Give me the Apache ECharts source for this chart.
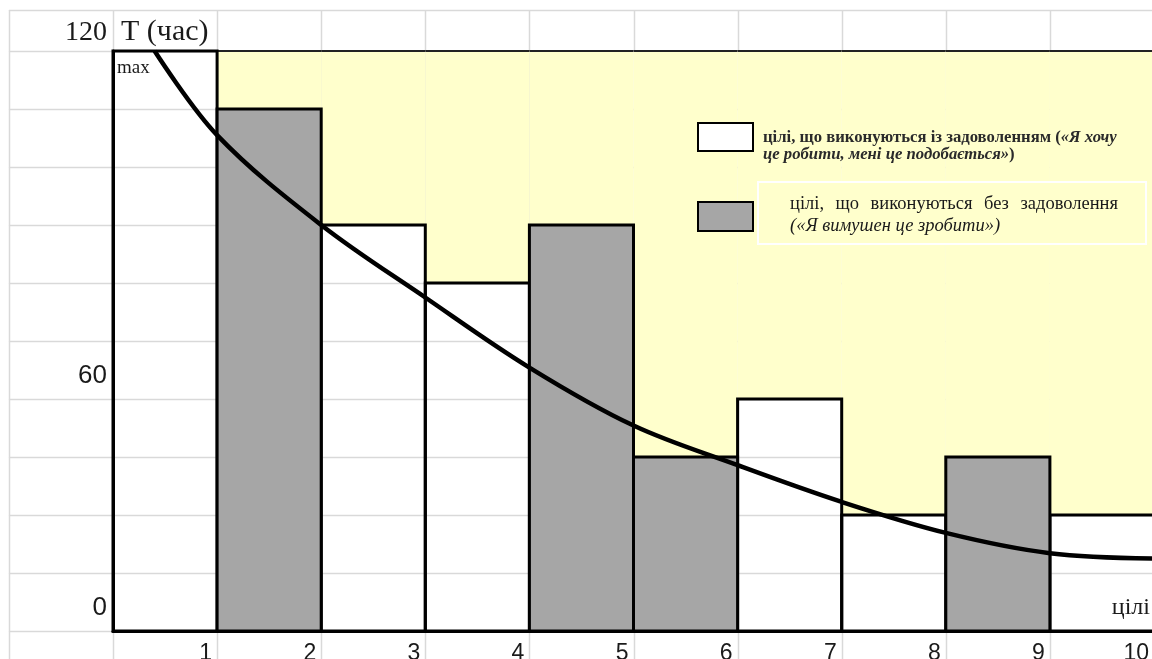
<!DOCTYPE html>
<html>
<head>
<meta charset="utf-8">
<script src="https://cdn.jsdelivr.net/npm/echarts@6/dist/echarts.min.js"></script>
<style>
  html, body { margin: 0; padding: 0; background: #ffffff; }
  #chart { width: 1152px; height: 659px; }
</style>
</head>
<body>
<div id="chart"></div>
<script>
// Goal numbers along the horizontal axis
const goalLabels = ['1', '2', '3', '4', '5', '6', '7', '8', '9', '10'];
// Hours per goal: done with pleasure (white bars) and without pleasure (gray bars)
const pleasureHours = [120, null, 84, 72, null, null, 48, 24, null, 24];
const forcedHours   = [null, 108, null, null, 84, 36, null, null, 36, null];
// Falling trend curve across the goals
const trendX = [0.4, 1, 2, 3, 4, 5, 6, 7, 8, 9, 10];
const trendY = [120, 102.6, 84, 69, 54.5, 42.5, 34.3, 26.7, 20.3, 16.1, 15];
// Labelled hour ticks
const hourTicks = [0, 60, 120];
const hourMax = 120;
const hourStep = 12;

const SERIF = '"Liberation Serif", "Times New Roman", serif';
const SANS = '"Liberation Sans", Arial, sans-serif';
const YELLOW = '#ffffcc';
const GRAY = '#a6a6a6';
const GRID_LINE = '#d9d9d9';

function toPairs(values) {
  const out = [];
  values.forEach((v, i) => { if (v != null) out.push([i, v]); });
  return out;
}
const pleasureData = toPairs(pleasureHours);
const forcedData = toPairs(forcedHours);
// top of the column (whichever bar stands there) for the yellow band above it
const skylineData = goalLabels.map((_, i) => [i, Math.max(pleasureHours[i] || 0, forcedHours[i] || 0)]);
const trendData = trendX.map((x, i) => [x, trendY[i]]);

function barRenderer(fill) {
  return function (params, api) {
    const x0 = api.value(0);
    const v = api.value(1);
    const p0 = api.coord([x0, v]);
    const p1 = api.coord([x0 + 1, 0]);
    return {
      type: 'rect',
      shape: { x: p0[0], y: p0[1], width: p1[0] - p0[0], height: p1[1] - p0[1] },
      style: { fill: fill, stroke: '#000', lineWidth: 3 }
    };
  };
}

function skylineRenderer(params, api) {
  const x0 = api.value(0);
  const v = api.value(1);
  const p0 = api.coord([x0, hourMax]);
  const p1 = api.coord([x0 + 1, v]);
  if (p1[1] - p0[1] <= 0) return null;
  return {
    type: 'group',
    children: [
      { type: 'rect', shape: { x: p0[0], y: p0[1], width: p1[0] - p0[0], height: p1[1] - p0[1] },
        style: { fill: YELLOW } },
      { type: 'line', shape: { x1: p0[0], y1: p0[1], x2: p1[0], y2: p0[1] },
        style: { stroke: '#222', lineWidth: 2 } }
    ]
  };
}

const chart = echarts.init(document.getElementById('chart'), null, { renderer: 'canvas' });

chart.setOption({
  animation: false,
  backgroundColor: '#ffffff',
  grid: { left: 113, right: -2, top: 51, bottom: 28, containLabel: false, outerBoundsMode: 'none' },
  xAxis: {
    type: 'value', min: 0, max: goalLabels.length, interval: 1,
    axisLine: { show: true, lineStyle: { color: '#000', width: 3 } },
    axisTick: { show: false },
    splitLine: { show: false },
    axisLabel: {
      formatter: v => (v >= 1 ? goalLabels[v - 1] : ''),
      align: 'right', padding: [0, 5, 0, 0], margin: 11,
      fontFamily: SANS, fontSize: 23, color: '#1a1a1a'
    }
  },
  yAxis: {
    type: 'value', min: 0, max: hourMax, interval: hourStep,
    axisLine: { show: true, lineStyle: { color: '#000', width: 3 } },
    axisTick: { show: false },
    splitLine: { show: false },
    axisLabel: { show: false }
  },
  series: [
    { type: 'custom', name: 'band', renderItem: skylineRenderer, data: skylineData, z: 1, silent: true },
    { type: 'custom', name: 'цілі, що виконуються із задоволенням', renderItem: barRenderer('rgba(255,255,255,0)'), data: pleasureData, z: 3 },
    { type: 'custom', name: 'цілі, що виконуються без задоволення', renderItem: barRenderer(GRAY), data: forcedData, z: 3 },
    {
      type: 'line', data: trendData, smooth: 0.35, showSymbol: false, z: 6,
      lineStyle: { color: '#000', width: 4.5 }
    }
  ]
});

// Spreadsheet-style cell lines, tick labels and the key, placed from the axis scales
const origin = chart.convertToPixel({ gridIndex: 0 }, [0, 0]);
const unit = chart.convertToPixel({ gridIndex: 0 }, [1, hourStep]);
const colW = unit[0] - origin[0];
const topY = chart.convertToPixel({ gridIndex: 0 }, [0, hourMax])[1];
const headerY = topY - 41;
const leftX = origin[0] - colW;
const W = 1152, H = 659;

// text placed by its baseline (middle of the em box sits ~0.34em above it)
function textAt(x, baseline, text, opts) {
  const size = opts.size;
  return {
    type: 'text', z: opts.z || 10, x: x, y: baseline - 0.34 * size, silent: true,
    style: Object.assign({
      text: text, fontFamily: opts.font || SERIF, fontSize: size, fill: opts.color || '#1a1a1a',
      align: opts.align || 'left', verticalAlign: 'middle'
    }, opts.extra || {})
  };
}

const graphics = [];
for (let k = -1; k < goalLabels.length; k++) {
  const x = Math.round(origin[0] + k * colW) + 0.5;
  graphics.push({ type: 'line', z: 0, silent: true,
    shape: { x1: x, y1: headerY, x2: x, y2: H }, style: { stroke: GRID_LINE, lineWidth: 1.5 } });
}
const rowYs = [headerY];
for (let v = 0; v <= hourMax; v += hourStep) rowYs.push(chart.convertToPixel({ gridIndex: 0 }, [0, v])[1]);
rowYs.forEach(y => {
  graphics.push({ type: 'line', z: 0, silent: true,
    shape: { x1: leftX, y1: Math.round(y) + 0.5, x2: W, y2: Math.round(y) + 0.5 },
    style: { stroke: GRID_LINE, lineWidth: 1.5 } });
});

// hour tick labels sit inside the spreadsheet cells next to their rows
const tickStyle = {
  0:   { font: SANS, size: 26, dy: -14 },
  60:  { font: SANS, size: 26, dy: 44 },
  120: { font: SERIF, size: 28, dy: -9 }
};
hourTicks.forEach(v => {
  const p = chart.convertToPixel({ gridIndex: 0 }, [0, v]);
  const s = tickStyle[v];
  graphics.push(textAt(p[0] - 6, p[1] + s.dy, String(v), { font: s.font, size: s.size, align: 'right' }));
});

graphics.push(textAt(origin[0] + 8, topY - 9, 'T (час)', { size: 30 }));
graphics.push(textAt(origin[0] + 4, topY + 23, 'max', { size: 19 }));
graphics.push(textAt(W - 2, origin[1] - 15, 'цілі', { size: 24, align: 'right' }));

// key: white box = goals done gladly, gray box = goals done reluctantly
graphics.push({ type: 'rect', z: 10, shape: { x: 698, y: 123, width: 55, height: 28 },
  style: { fill: '#ffffff', stroke: '#000', lineWidth: 2 } });
graphics.push({ type: 'text', z: 10, x: 763, y: 129,
  style: {
    text: '{b|цілі, що виконуються із задоволенням (}{bi|«Я хочу}\n{bi|це робити, мені це подобається»}{b|)}',
    verticalAlign: 'top', align: 'left',
    rich: {
      b:  { fontFamily: SERIF, fontSize: 16.7, fontWeight: 'bold', fill: '#2a2a2a', lineHeight: 17 },
      bi: { fontFamily: SERIF, fontSize: 16.7, fontWeight: 'bold', fontStyle: 'italic', fill: '#2a2a2a', lineHeight: 17 }
    }
  } });
graphics.push({ type: 'rect', z: 10, shape: { x: 758, y: 182, width: 388, height: 62 },
  style: { fill: YELLOW, stroke: '#ffffff', lineWidth: 2 } });
graphics.push({ type: 'rect', z: 11, shape: { x: 698, y: 202, width: 55, height: 29 },
  style: { fill: GRAY, stroke: '#000', lineWidth: 2 } });

// justified first line of the second key entry
const keyWords = ['цілі,', 'що', 'виконуються', 'без', 'задоволення'];
const keySize = 18.5;
const lineLeft = 790, lineRight = 1118;
const measure = document.createElement('canvas').getContext('2d');
measure.font = keySize + 'px ' + SERIF;
const widths = keyWords.map(w => measure.measureText(w).width);
const gap = (lineRight - lineLeft - widths.reduce((a, b) => a + b, 0)) / (keyWords.length - 1);
let cursor = lineLeft;
keyWords.forEach((w, i) => {
  graphics.push(textAt(cursor, 210, w, { size: keySize, z: 11 }));
  cursor += widths[i] + gap;
});
graphics.push(textAt(lineLeft, 232, '(«Я вимушен це зробити»)', { size: keySize, z: 11, extra: { fontStyle: 'italic' } }));

chart.setOption({ graphic: graphics });
</script>
</body>
</html>
